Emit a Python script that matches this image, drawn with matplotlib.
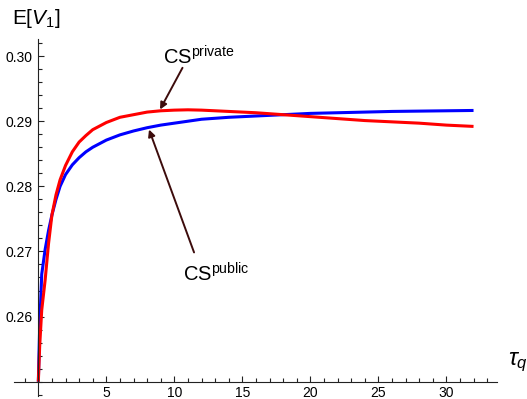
import matplotlib
matplotlib.use('Agg')
import matplotlib.pyplot as plt
from matplotlib.ticker import MultipleLocator

plt.rcParams['font.family'] = ['Liberation Sans', 'DejaVu Sans']
plt.rcParams['mathtext.fontset'] = 'custom'
plt.rcParams['mathtext.rm'] = 'Liberation Sans'
plt.rcParams['mathtext.it'] = 'Liberation Sans:italic'

# values
tau = [0, 0.1, 0.25, 0.5, 0.75, 1.0, 1.3, 1.6, 2.0, 2.5, 3.0, 3.5, 4.0, 5.0, 6.0,
       7.0, 8.0, 9.0, 10, 11, 12, 14, 16, 18, 20, 22, 24, 26, 28, 30, 32]
cs_private = [0.2500, 0.2555, 0.2610, 0.2656, 0.2712, 0.2756, 0.2787, 0.2810, 0.2832,
              0.2853, 0.2868, 0.2878, 0.2887, 0.2898, 0.2906, 0.2910, 0.2914, 0.2916,
              0.2917, 0.29175, 0.2917, 0.2915, 0.2913, 0.2910, 0.2907, 0.2904, 0.2901,
              0.2899, 0.2897, 0.2894, 0.2892]
cs_public = [0.2500, 0.2585, 0.2665, 0.2703, 0.2732, 0.2756, 0.2780, 0.2800, 0.2818,
             0.2833, 0.2844, 0.2853, 0.2860, 0.2871, 0.2879, 0.2885, 0.2890, 0.2894,
             0.2897, 0.2900, 0.2903, 0.2906, 0.2908, 0.2910, 0.2912, 0.2913, 0.2914,
             0.2915, 0.29155, 0.2916, 0.29165]

fig = plt.figure(figsize=(5.27, 3.99), dpi=100)
ax = fig.add_axes([0.0268, 0.0075, 0.9169, 0.896])

ax.plot(tau, cs_public, color='#0000ff', lw=2.2, solid_capstyle='butt')
ax.plot(tau, cs_private, color='#ff0000', lw=2.2, solid_capstyle='butt')

ax.set_xlim(-1.78, 33.75)
ax.set_ylim(0.2478, 0.3027)

for s in ['top', 'right']:
    ax.spines[s].set_visible(False)
ax.spines['left'].set_position(('data', 0))
ax.spines['bottom'].set_position(('data', 0.25))
for s in ['left', 'bottom']:
    ax.spines[s].set_linewidth(0.8)
    ax.spines[s].set_color('#222222')

ax.set_xticks([5, 10, 15, 20, 25, 30])
ax.xaxis.set_minor_locator(MultipleLocator(1))
ax.set_yticks([0.26, 0.27, 0.28, 0.29, 0.30])
ax.set_yticklabels(['0.26', '0.27', '0.28', '0.29', '0.30'])
ax.yaxis.set_minor_locator(MultipleLocator(0.002))
ax.tick_params(which='both', direction='in', color='#222222', width=0.8, labelsize=10)
ax.tick_params(which='major', length=4.5)
ax.tick_params(which='minor', length=2.7)
ax.tick_params(axis='y', pad=4)
ax.tick_params(axis='x', pad=3)

fig.text(0.022, 0.94, r'$\mathrm{E}[V_1]$', fontsize=15, ha='left', va='baseline')
fig.text(0.963, 0.085, r'$\tau_q$', fontsize=17, ha='left', va='baseline')

arrow = dict(arrowstyle='-|>', color='#3d0c0c', lw=1.4, mutation_scale=10, shrinkA=0, shrinkB=0)
ax.text(9.17, 0.29872, r'CS$^{\mathrm{private}}$', fontsize=14.5, ha='left', va='baseline')
ax.annotate('', xy=(8.95, 0.2918), xytext=(10.6, 0.2982), arrowprops=arrow)
ax.text(10.64, 0.26534, r'CS$^{\mathrm{public}}$', fontsize=14.5, ha='left', va='baseline')
ax.annotate('', xy=(8.14, 0.28872), xytext=(11.45, 0.26985), arrowprops=arrow)

fig.savefig('out.png', dpi=100)
